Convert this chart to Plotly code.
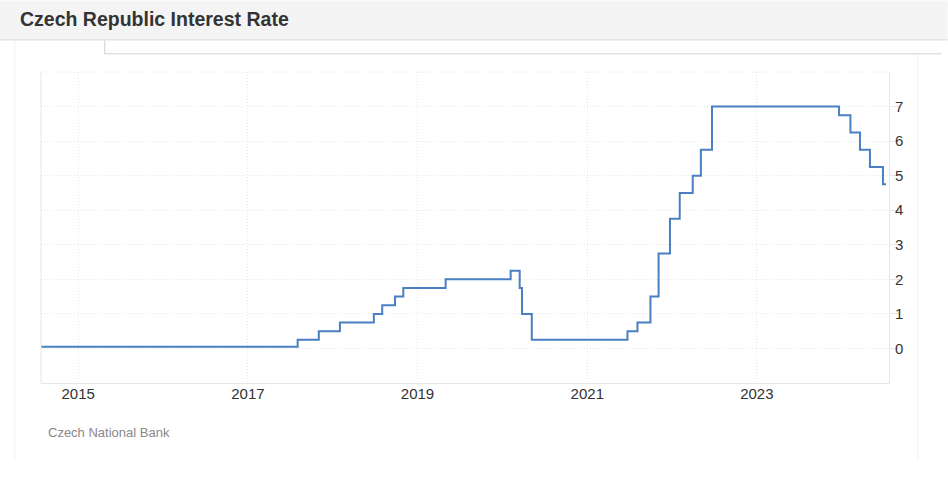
import plotly.graph_objects as go

# CNB two-week repo rate, step changes (value holds until the next date)
change_dates = ['2014-07-25', '2017-08-03', '2017-11-02', '2018-02-01', '2018-06-27',
                '2018-08-02', '2018-09-26', '2018-11-01', '2019-05-02', '2020-02-06',
                '2020-03-16', '2020-03-26', '2020-05-07', '2021-06-23', '2021-08-05',
                '2021-09-30', '2021-11-04', '2021-12-23', '2022-02-03', '2022-03-31',
                '2022-05-05', '2022-06-22', '2023-12-21', '2024-02-08', '2024-03-20',
                '2024-05-02', '2024-06-27', '2024-07-10']
rates = [0.05, 0.25, 0.5, 0.75, 1.0,
         1.25, 1.5, 1.75, 2.0, 2.25,
         1.75, 1.0, 0.25, 0.5, 0.75,
         1.5, 2.75, 3.75, 4.5, 5.0,
         5.75, 7.0, 6.75, 6.25, 5.75,
         5.25, 4.75, 4.75]
y_ticks = [0, 1, 2, 3, 4, 5, 6, 7]

W, H = 948, 495
L, R, T, B = 41.3, 889.3, 71.7, 383.3  # plot area in pixels


def px(x):
    return (x - L) / (R - L)


def py(y):
    return 1 - (y - T) / (B - T)


fig = go.Figure(go.Scatter(
    x=change_dates, y=rates, mode='lines', line_shape='hv',
    line=dict(color='#4a7fc1', width=2), hoverinfo='x+y'
))

grey = '#e6e6e6'
dots = '1px,2px'
shapes = [
    # header bar
    dict(type='rect', xref='paper', yref='paper', x0=px(0), x1=px(W), y0=py(39), y1=py(0),
         fillcolor='#f4f4f4', line=dict(width=0), layer='below'),
    dict(type='line', xref='paper', yref='paper', x0=px(0), x1=px(W), y0=py(39.5), y1=py(39.5),
         line=dict(color='#d6d6d6', width=1)),
    # tab outline
    dict(type='line', xref='paper', yref='paper', x0=px(105), x1=px(105), y0=py(40), y1=py(53.5),
         line=dict(color='#d0d0d0', width=1)),
    dict(type='line', xref='paper', yref='paper', x0=px(105), x1=px(942), y0=py(53.5), y1=py(53.5),
         line=dict(color='#d0d0d0', width=1)),
    # panel edges
    dict(type='line', xref='paper', yref='paper', x0=px(15), x1=px(15), y0=py(40), y1=py(460),
         line=dict(color='#f0f0f0', width=1)),
    dict(type='line', xref='paper', yref='paper', x0=px(918), x1=px(918), y0=py(54), y1=py(460),
         line=dict(color='#f0f0f0', width=1)),
    # plot frame: left solid, top dotted
    dict(type='line', xref='paper', yref='paper', x0=0, x1=0, y0=0, y1=1,
         line=dict(color=grey, width=1)),
    dict(type='line', xref='paper', yref='paper', x0=0, x1=px(900), y0=1, y1=1,
         line=dict(color=grey, width=1, dash=dots)),
]

fig.update_layout(
    width=W, height=H,
    margin=dict(l=L, r=W - R, t=T, b=H - B),
    paper_bgcolor='white', plot_bgcolor='white',
    showlegend=False,
    font=dict(family='Liberation Sans, Arial, sans-serif', color='#333333'),
    xaxis=dict(
        type='date', range=['2014-07-25', '2024-07-23'],
        tick0='2015-01-01', dtick='M24', tickformat='%Y',
        showgrid=True, gridcolor=grey, griddash=dots, gridwidth=1,
        showline=True, linecolor=grey, linewidth=1,
        ticks='', tickfont=dict(size=15, color='#333333'),
        ticklabelstandoff=-3,
        zeroline=False, fixedrange=True
    ),
    yaxis=dict(
        side='right', range=[-1, 8], tickvals=y_ticks,
        showgrid=True, gridcolor=grey, griddash=dots, gridwidth=1,
        showline=True, linecolor=grey, linewidth=1,
        ticks='outside', ticklen=10, tickcolor=grey,
        tickfont=dict(size=15, color='#333333'),
        ticklabelstandoff=-8,
        zeroline=False, fixedrange=True
    ),
    shapes=shapes,
    annotations=[
        dict(text='<b>Czech Republic Interest Rate</b>', xref='paper', yref='paper',
             x=px(18), y=py(19), xanchor='left', yanchor='middle', showarrow=False,
             font=dict(size=19.5, color='#333333')),
        dict(text='Czech National Bank', xref='paper', yref='paper',
             x=px(46), y=py(433), xanchor='left', yanchor='middle', showarrow=False,
             font=dict(size=13, color='#888888')),
    ],
)

fig.write_html("out.html", config={'displayModeBar': False},
               post_script="document.body.style.margin='0';")
